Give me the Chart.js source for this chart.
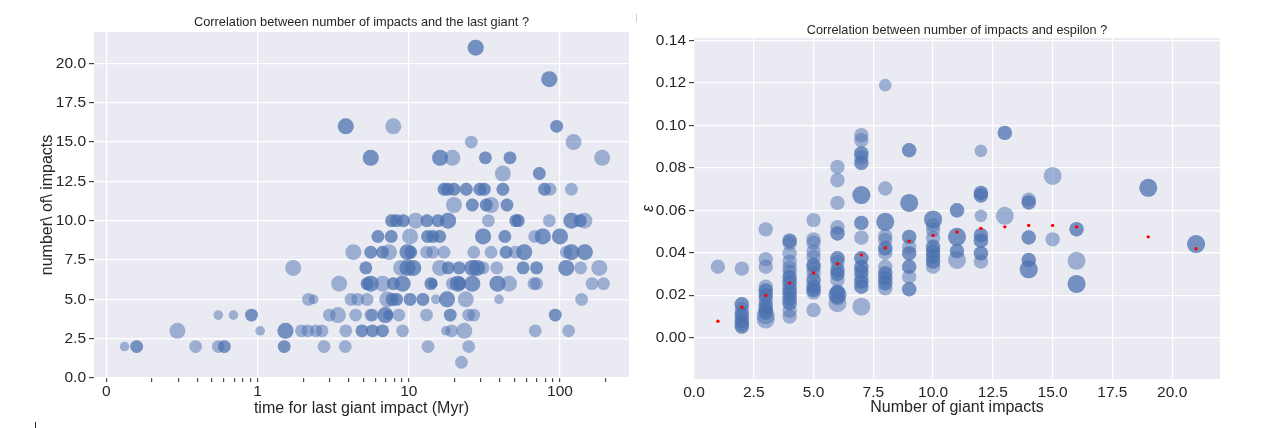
<!DOCTYPE html>
<html>
<head>
<meta charset="utf-8">
<script src="https://cdn.jsdelivr.net/npm/chart.js@4.4.0/dist/chart.umd.min.js"></script>
<style>
  html, body { margin: 0; padding: 0; background: #fff; }
  #wrap { position: relative; width: 1266px; height: 428px; overflow: hidden; }
  canvas { position: absolute; top: 0; }
  #left { left: 0; }
  #right { left: 630px; }
  .mark { position: absolute; width: 1px; }
</style>
</head>
<body>
<div id="wrap">
  <canvas id="left" width="640" height="428"></canvas>
  <canvas id="right" width="636" height="428"></canvas>
  <div class="mark" style="left:35px;top:422px;height:6px;background:#222"></div>
  <div class="mark" style="left:636px;top:14px;height:8px;background:#ccc"></div>
</div>
<script>
// number of giant impacts in each group (shared by both panels)
const impactLevels = [1, 2, 3, 4, 5, 6, 7, 8, 9, 10, 11, 12, 13, 14, 15, 16, 19, 21];

// left panel: time of the last giant impact (Myr), one row per impact level
const lastGiantTime = [
  [22.3],
  [0.12, 0.2, 0.59, 0.74, 0.78, 1.5, 2.75, 3.8, 13.4, 24.9],
  [0.47, 1.04, 1.53, 1.95, 2.15, 2.43, 2.67, 3.83, 4.9, 5.75, 6.7, 9.1, 17.6, 19.2, 23.3, 68.6, 114],
  [0.74, 0.84, 0.96, 2.98, 3.4, 4.45, 5.6, 5.75, 7.0, 7.3, 8.6, 13.1, 18.8, 24.9, 26.9, 93],
  [2.17, 2.35, 4.15, 4.6, 5.3, 7.2, 7.76, 8.3, 10.2, 12.4, 15.1, 17.9, 23.8, 39.5, 139],
  [3.46, 5.3, 5.6, 6.7, 7.9, 9.1, 14, 14.4, 19.4, 21.1, 21.7, 26.3, 38.6, 46, 67.3, 70, 163, 194],
  [1.72, 5.2, 8.9, 9.8, 10.7, 16.1, 18.2, 21.5, 26.3, 28.3, 31, 38.2, 57, 70, 110, 137, 182],
  [4.3, 5.6, 6.7, 7.4, 9.8, 10.3, 13.1, 14.4, 17.1, 26.9, 35, 44, 50.5, 58, 110, 119, 146],
  [6.25, 7.65, 10.2, 13.3, 14.4, 16, 31, 43.2, 68, 77, 100],
  [7.7, 8.3, 9.2, 11.1, 13.2, 15.6, 18.2, 33.6, 51, 53, 85, 119, 136, 145],
  [19.9, 26.3, 32.5, 35, 44.6],
  [17.1, 18.1, 19.9, 24, 29.5, 31.6, 41.9, 79, 86, 119],
  [41.9, 73],
  [5.6, 16.1, 19.4, 32.1, 46.7, 190],
  [25.9, 123],
  [3.83, 7.9, 95],
  [85],
  [27.7]
];
const lastGiantMass = [
  [0.8],
  [0.6, 0.8, 0.8, 0.8, 0.8, 0.8, 0.8, 0.8, 0.8, 0.8],
  [1, 0.6, 1, 0.8, 0.8, 0.8, 0.8, 0.8, 0.8, 0.8, 0.8, 0.8, 0.6, 0.8, 1, 0.8, 0.8],
  [0.6, 0.6, 0.8, 0.8, 1, 0.8, 0.8, 0.8, 1, 0.6, 0.8, 0.8, 0.8, 0.8, 0.8, 0.8],
  [0.8, 0.6, 0.8, 0.8, 0.8, 1, 0.8, 0.8, 0.8, 0.8, 0.6, 1, 1, 0.6, 0.8],
  [1, 0.8, 1, 1, 0.8, 1, 0.8, 0.6, 0.8, 1, 0.8, 1, 1, 1, 0.8, 0.8, 0.8, 0.8],
  [1, 0.8, 1, 1, 1, 1, 0.8, 0.8, 1, 1, 0.8, 0.8, 0.8, 0.8, 1, 0.8, 1],
  [1, 0.8, 0.8, 1, 1, 0.8, 0.8, 0.8, 0.8, 0.8, 0.8, 0.8, 0.8, 1, 0.8, 1, 1],
  [0.8, 0.8, 1, 0.8, 0.8, 0.8, 1, 0.8, 0.8, 1, 1],
  [0.8, 0.8, 0.8, 1, 0.8, 0.8, 1, 0.8, 0.8, 0.8, 0.8, 1, 0.8, 1],
  [1, 0.8, 0.8, 1, 0.8],
  [0.8, 0.8, 0.8, 0.8, 0.8, 0.8, 0.8, 0.8, 0.8, 0.8],
  [1, 0.8],
  [1, 1, 1, 0.8, 0.8, 1],
  [0.8, 1],
  [1, 1, 0.8],
  [1],
  [1]
];
// how many runs ended on the same point
const lastGiantRuns = [
  [1],
  [1, 2, 1, 1, 2, 2, 1, 1, 1, 1],
  [1, 1, 2, 1, 1, 1, 1, 1, 2, 2, 2, 1, 1, 1, 1, 1, 1],
  [1, 1, 2, 1, 1, 1, 1, 1, 2, 2, 1, 1, 2, 1, 1, 2],
  [1, 1, 1, 1, 1, 1, 2, 2, 2, 2, 1, 2, 1, 1, 1],
  [1, 2, 2, 1, 2, 2, 2, 2, 1, 2, 2, 2, 2, 1, 1, 1, 1, 1],
  [1, 2, 1, 2, 2, 1, 2, 2, 2, 2, 1, 1, 2, 2, 2, 1, 1],
  [1, 2, 2, 1, 2, 2, 1, 1, 1, 1, 1, 2, 1, 2, 1, 2, 2],
  [2, 2, 1, 2, 2, 2, 2, 2, 1, 2, 2],
  [2, 2, 2, 1, 2, 2, 2, 1, 2, 2, 1, 2, 2, 1],
  [1, 2, 2, 1, 2],
  [2, 2, 2, 2, 2, 2, 2, 2, 1, 1],
  [1, 2],
  [2, 2, 1, 2, 2, 1],
  [1, 1],
  [2, 1, 2],
  [2],
  [2]
];

// right panel: epsilon per impact level
const epsilonValues = [
  [0.0334],
  [0.0325, 0.0157, 0.0135, 0.011, 0.0095, 0.0078, 0.0062, 0.0052],
  [0.051, 0.037, 0.0334, 0.024, 0.0222, 0.020, 0.018, 0.0155, 0.0133, 0.0118, 0.0105, 0.0085],
  [0.0457, 0.0445, 0.0397, 0.0358, 0.033, 0.031, 0.0285, 0.026, 0.0232, 0.0209, 0.0185, 0.0162, 0.0127, 0.0099],
  [0.0554, 0.0463, 0.0447, 0.0405, 0.038, 0.0342, 0.0328, 0.0305, 0.0272, 0.024, 0.0224, 0.0212, 0.013],
  [0.0805, 0.0742, 0.0635, 0.052, 0.0491, 0.0374, 0.0355, 0.0319, 0.030, 0.0272, 0.0217, 0.0201, 0.0185, 0.0162],
  [0.0954, 0.093, 0.0868, 0.0849, 0.0824, 0.0672, 0.0541, 0.0471, 0.0374, 0.0334, 0.031, 0.0287, 0.0264, 0.024, 0.0146],
  [0.119, 0.0703, 0.0546, 0.0479, 0.046, 0.0421, 0.040, 0.0334, 0.0303, 0.028, 0.0256, 0.0232],
  [0.0883, 0.0635, 0.0475, 0.0428, 0.0397, 0.0334, 0.0287, 0.0228],
  [0.0557, 0.053, 0.0507, 0.0468, 0.0428, 0.0405, 0.0381, 0.0358, 0.0334],
  [0.060, 0.0475, 0.0408, 0.0366],
  [0.088, 0.0682, 0.067, 0.0574, 0.0483, 0.0457, 0.0397, 0.0358],
  [0.0965, 0.0574],
  [0.065, 0.0637, 0.0472, 0.0366, 0.0322],
  [0.0762, 0.0463],
  [0.0511, 0.0362, 0.0253],
  [0.0706],
  [0.0441]
];
const epsilonMass = [
  [0.8],
  [0.8, 0.8, 0.8, 0.8, 0.8, 0.8, 0.8, 0.8],
  [0.8, 0.8, 0.8, 0.8, 0.8, 0.8, 0.8, 0.8, 0.8, 0.8, 1, 1],
  [0.8, 0.8, 0.8, 0.8, 0.8, 0.8, 0.8, 0.8, 0.8, 0.8, 0.8, 0.8, 0.8, 0.8],
  [0.8, 0.8, 0.8, 0.8, 0.8, 0.8, 0.8, 0.8, 0.8, 0.8, 0.8, 0.8, 0.8],
  [0.8, 0.8, 0.8, 0.8, 0.8, 0.8, 0.8, 0.8, 0.8, 0.8, 0.8, 1, 0.8, 1],
  [0.8, 0.8, 0.8, 0.8, 0.8, 1, 0.8, 0.8, 0.8, 0.8, 0.8, 0.8, 0.8, 0.8, 1],
  [0.7, 0.8, 1, 0.8, 0.8, 0.8, 0.8, 0.8, 0.8, 0.8, 0.8, 0.8],
  [0.8, 1, 0.8, 0.8, 0.8, 0.8, 0.8, 0.8],
  [1, 0.8, 0.8, 0.8, 0.8, 0.8, 0.8, 0.8, 0.8],
  [0.8, 1, 0.8, 1],
  [0.7, 0.8, 0.8, 0.7, 0.8, 0.8, 0.8, 0.8],
  [0.8, 1],
  [0.8, 0.8, 0.8, 0.8, 1],
  [1, 0.8],
  [0.8, 1, 1],
  [1],
  [1]
];
const epsilonRuns = [
  [1],
  [1, 2, 1, 2, 1, 2, 1, 2],
  [1, 1, 1, 1, 2, 2, 1, 2, 2, 2, 1, 1],
  [2, 1, 1, 1, 1, 1, 2, 2, 2, 2, 2, 2, 1, 1],
  [1, 1, 1, 1, 1, 2, 1, 1, 2, 2, 2, 1, 1],
  [1, 1, 1, 1, 2, 2, 1, 2, 2, 1, 2, 2, 1, 1],
  [1, 1, 2, 1, 2, 2, 2, 1, 2, 2, 2, 1, 2, 2, 1],
  [1, 1, 2, 1, 1, 2, 1, 1, 2, 2, 2, 1],
  [2, 2, 2, 1, 2, 2, 1, 2],
  [2, 1, 1, 1, 2, 2, 2, 2, 1],
  [2, 2, 2, 1],
  [1, 2, 2, 1, 2, 2, 2, 1],
  [2, 1],
  [1, 2, 2, 2, 2],
  [1, 1],
  [2, 1, 2],
  [2],
  [2]
];
// mean epsilon per impact level (red dots)
const meanEpsilon = [0.0077, 0.0143, 0.0199, 0.0257, 0.0305, 0.0348, 0.039, 0.0423, 0.0455,
  0.0482, 0.0498, 0.0515, 0.0522, 0.0529, 0.0529, 0.0522, 0.0475, 0.0419];

// ticks
const leftXMajor = [0, 1, 10, 100];
const leftXLabels = ['0', '1', '10', '100'];
const leftYTicks = [0, 2.5, 5, 7.5, 10, 12.5, 15, 17.5, 20];
const rightXTicks = [0, 2.5, 5, 7.5, 10, 12.5, 15, 17.5, 20];
const rightYTicks = [0, 0.02, 0.04, 0.06, 0.08, 0.10, 0.12, 0.14];

const INK = '#262626';
const BLUE = 'rgba(76,114,176,0.5)';
Chart.defaults.font.family = '"Liberation Sans", Arial, sans-serif';
Chart.defaults.color = INK;

// symlog axis, linear between -1 and 1, log10 outside
function symlog(v) {
  const a = Math.abs(v);
  return a <= 1 ? v : Math.sign(v) * (1 + Math.log10(a));
}
function symexp(t) {
  const a = Math.abs(t);
  return a <= 1 ? t : Math.sign(t) * Math.pow(10, a - 1);
}

class SymlogScale extends Chart.LinearScale {
  static id = 'symlog';
  determineDataLimits() {
    this.min = this.options.min;
    this.max = this.options.max;
  }
  buildTicks() {
    const ticks = leftXMajor.map(v => ({ value: v, major: true }));
    for (let k = 2; k < 10; k++) {
      ticks.push({ value: Math.log10(k), major: false });
      for (let d = 0; d < 3; d++) {
        const v = k * Math.pow(10, d);
        if (v < this.max) ticks.push({ value: v, major: false });
      }
    }
    ticks.sort((a, b) => a.value - b.value);
    return ticks;
  }
  configure() {
    super.configure();
    this._tmin = symlog(this.min);
    this._tmax = symlog(this.max);
  }
  getPixelForValue(value) {
    return this.getPixelForDecimal((symlog(value) - this._tmin) / (this._tmax - this._tmin));
  }
  getValueForPixel(pixel) {
    return symexp(this._tmin + this.getDecimalForPixel(pixel) * (this._tmax - this._tmin));
  }
}
Chart.register(SymlogScale);

const plotBackground = {
  id: 'plotBackground',
  beforeDraw(chart) {
    const a = chart.chartArea, ctx = chart.ctx;
    ctx.save();
    ctx.fillStyle = '#EAEAF2';
    ctx.fillRect(a.left, a.top, a.right - a.left, a.bottom - a.top);
    ctx.restore();
  }
};

function spread(levels, values, masses, runs, levelOnX) {
  const pts = [];
  levels.forEach((lvl, i) => {
    values[i].forEach((v, j) => {
      for (let r = 0; r < runs[i][j]; r++) {
        pts.push(levelOnX ? { x: lvl, y: v, m: masses[i][j] } : { x: v, y: lvl, m: masses[i][j] });
      }
    });
  });
  return pts;
}

function fixedTicks(list) {
  return scale => { scale.ticks = list.map(v => ({ value: v })); };
}

// left panel
new Chart(document.getElementById('left'), {
  type: 'scatter',
  data: {
    datasets: [{
      data: spread(impactLevels, lastGiantTime, lastGiantMass, lastGiantRuns, false),
      backgroundColor: BLUE,
      borderWidth: 0,
      pointRadius: c => c.raw.m * 8
    }]
  },
  options: {
    responsive: false,
    animation: false,
    events: [],
    layout: { padding: { left: 0, right: 11, top: 0, bottom: 0 } },
    plugins: {
      legend: { display: false },
      tooltip: { enabled: false },
      title: {
        display: true, fullSize: false,
        text: 'Correlation between number of impacts and the last giant ?',
        font: { size: 12.8, weight: 'normal' }, color: INK,
        padding: { top: 14.3, bottom: 2.3 }
      }
    },
    scales: {
      x: {
        type: 'symlog', min: -0.082, max: 286,
        afterFit: s => { s.height = 50; },
        border: { display: false },
        grid: {
          color: c => (c.tick && c.tick.major) ? '#ffffff' : 'rgba(0,0,0,0)',
          lineWidth: 1.2, tickColor: '#444', tickLength: 4
        },
        ticks: {
          autoSkip: false, maxRotation: 0, padding: 0,
          font: { size: 15.5 }, color: INK,
          callback: (v, i, ticks) => ticks[i].major ? leftXLabels[leftXMajor.indexOf(ticks[i].value)] : ''
        },
        title: {
          display: true, text: 'time for last giant impact (Myr)',
          font: { size: 16 }, color: INK, padding: { top: 0, bottom: 10 }
        }
      },
      y: {
        type: 'linear', min: 0, max: 22,
        afterFit: s => { s.width = 94; },
        afterBuildTicks: fixedTicks(leftYTicks),
        border: { display: false },
        grid: { color: '#ffffff', lineWidth: 1.2, tickColor: '#444', tickLength: 5 },
        ticks: { padding: 3, font: { size: 15.5 }, color: INK, callback: v => v.toFixed(1) },
        title: {
          display: true, text: 'number\\ of\\ impacts',
          font: { size: 16 }, color: INK, padding: { top: 38, bottom: 0 }
        }
      }
    }
  },
  plugins: [plotBackground]
});

// right panel
new Chart(document.getElementById('right'), {
  type: 'scatter',
  data: {
    datasets: [{
      data: impactLevels.map((lvl, i) => ({ x: lvl, y: meanEpsilon[i] })),
      backgroundColor: '#ff0000',
      borderWidth: 0,
      pointRadius: 1.7,
      order: 0
    }, {
      data: spread(impactLevels, epsilonValues, epsilonMass, epsilonRuns, true),
      backgroundColor: BLUE,
      borderWidth: 0,
      pointRadius: c => c.raw.m * 9,
      order: 1
    }]
  },
  options: {
    responsive: false,
    animation: false,
    events: [],
    layout: { padding: { left: 0, right: 46, top: 0, bottom: 0 } },
    plugins: {
      legend: { display: false },
      tooltip: { enabled: false },
      title: {
        display: true, fullSize: false,
        text: 'Correlation between number of impacts and espilon ?',
        font: { size: 12.7, weight: 'normal' }, color: INK,
        padding: { top: 22.7, bottom: 0.1 }
      }
    },
    scales: {
      x: {
        type: 'linear', min: 0, max: 22,
        afterFit: s => { s.height = 49; },
        afterBuildTicks: fixedTicks(rightXTicks),
        border: { display: false },
        grid: { color: '#ffffff', lineWidth: 1.2, tickColor: 'rgba(0,0,0,0)', tickLength: 4 },
        ticks: { padding: 0, font: { size: 15.5 }, color: INK, maxRotation: 0, autoSkip: false,
          callback: v => v.toFixed(1) },
        title: {
          display: true, text: 'Number of giant impacts',
          font: { size: 16 }, color: INK, padding: { top: 0, bottom: 11 }
        }
      },
      y: {
        type: 'linear', min: -0.0195, max: 0.1412,
        afterFit: s => { s.width = 64; },
        afterBuildTicks: fixedTicks(rightYTicks),
        border: { display: false },
        grid: { color: '#ffffff', lineWidth: 1.2, tickColor: '#444', tickLength: 5 },
        ticks: { padding: 3, font: { size: 15.5 }, color: INK, callback: v => v.toFixed(2) },
        title: {
          display: true, text: 'ε',
          font: { size: 16, style: 'italic' }, color: INK, padding: { top: 9, bottom: 0 }
        }
      }
    }
  },
  plugins: [plotBackground]
});
</script>
</body>
</html>
